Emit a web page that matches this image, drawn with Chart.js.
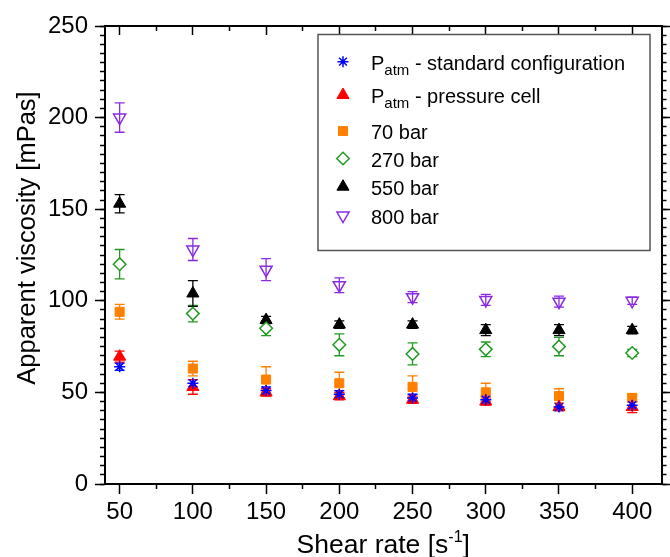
<!DOCTYPE html>
<html><head><meta charset="utf-8">
<script src="https://cdn.jsdelivr.net/npm/chart.js@4/dist/chart.umd.min.js"></script>
<style>html,body{margin:0;padding:0;background:#fff;}canvas{display:block;}</style>
</head><body>
<canvas id="c" width="670" height="557"></canvas>
<script>
// ---- data ----
const shearRates = [50, 100, 150, 200, 250, 300, 350, 400];
const stdVisc   = [64, 55, 51, 49, 47, 46, 42, 43];
const stdErr    = [2, 2, 2, 2, 2, 2, 2, 2];
const cellVisc  = [69.5, 53, 50, 48, 46, 45, 42, 42];
const cellErr   = [3, 4, 2, 2, 2, 2, 2, 3];
const bar70Visc = [94, 63, 57, 55, 53, 50, 48, 47];
const bar70Err  = [4, 4, 7, 6, 6, 5, 4, 2];
const bar270Visc = [120, 93, 85, 76, 71, 73.5, 75, 71.5];
const bar270Err  = [8, 4.5, 4, 6, 6, 4, 5, 2];
const bar550Visc = [153, 104, 89.5, 87, 87, 84, 84, 84];
const bar550Err  = [5, 7, 2, 2, 2, 3, 3, 2];
const bar800Visc = [200, 128, 117, 108.5, 102, 100.5, 99.5, 100];
const bar800Err  = [8, 6, 6, 4, 3, 3, 3, 2];

const xMajorTicks = [50, 100, 150, 200, 250, 300, 350, 400];
const xMinorTicks = [75, 125, 175, 225, 275, 325, 375];

const legendMain = ['P', 'P', '70 bar', '270 bar', '550 bar', '800 bar'];
const legendSub  = ['atm', 'atm', '', '', '', ''];
const legendRest = [' - standard configuration', ' - pressure cell', '', '', '', ''];
const xTitleMain = 'Shear rate [s';
const xTitleSup = '-1';
const xTitleEnd = ']';
const yTitle = 'Apparent viscosity [mPas]';

const FONT = '"Liberation Sans", Arial, Helvetica, sans-serif';
Chart.defaults.font.family = FONT;

const pts = vals => shearRates.map((x, i) => ({x: x, y: vals[i]}));
const seriesErrors = [stdErr, cellErr, bar70Err, bar270Err, bar550Err, bar800Err];

const datasets = [
  {label: 'Patm - standard configuration', data: pts(stdVisc), pointStyle: 'star', pointRadius: 5.5, borderColor: '#0000ff', backgroundColor: '#0000ff', pointBorderWidth: 1.5},
  {label: 'Patm - pressure cell', data: pts(cellVisc), pointStyle: 'triangle', pointRadius: 7, borderColor: '#ff0000', backgroundColor: '#ff0000', pointBorderWidth: 1},
  {label: '70 bar', data: pts(bar70Visc), pointStyle: 'rect', pointRadius: 6.4, borderColor: '#ff8000', backgroundColor: '#ff8000', pointBorderWidth: 1},
  {label: '270 bar', data: pts(bar270Visc), pointStyle: 'rectRot', pointRadius: 6.3, borderColor: '#229922', backgroundColor: '#ffffff', pointBorderWidth: 1.5},
  {label: '550 bar', data: pts(bar550Visc), pointStyle: 'triangle', pointRadius: 7, borderColor: '#000000', backgroundColor: '#000000', pointBorderWidth: 1},
  {label: '800 bar', data: pts(bar800Visc), pointStyle: 'triangle', pointRotation: 180, pointRadius: 7, borderColor: '#8a2be2', backgroundColor: 'rgba(0,0,0,0)', pointBorderWidth: 1.5}
];
datasets.forEach(d => { d.showLine = false; d.pointHoverRadius = d.pointRadius; });

const errorBars = {
  id: 'errorBars',
  beforeDatasetsDraw(chart) {
    const ctx = chart.ctx, xs = chart.scales.x, ys = chart.scales.y;
    chart.data.datasets.forEach((ds, di) => {
      const errs = seriesErrors[di];
      ctx.save();
      ctx.strokeStyle = ds.borderColor;
      ctx.lineWidth = 1.3;
      ds.data.forEach((p, i) => {
        const px = xs.getPixelForValue(p.x);
        const top = ys.getPixelForValue(p.y + errs[i]);
        const bot = ys.getPixelForValue(p.y - errs[i]);
        ctx.beginPath();
        ctx.moveTo(px, top); ctx.lineTo(px, bot);
        ctx.moveTo(px - 5, top); ctx.lineTo(px + 5, top);
        ctx.moveTo(px - 5, bot); ctx.lineTo(px + 5, bot);
        ctx.stroke();
      });
      ctx.restore();
    });
  }
};

const legendY = [61.7, 95, 131, 158.5, 186.7, 215.5];
const customLegend = {
  id: 'customLegend',
  afterDraw(chart) {
    const ctx = chart.ctx;
    ctx.save();
    ctx.strokeStyle = '#555555';
    ctx.lineWidth = 1.5;
    ctx.strokeRect(318, 34.5, 332, 216);
    chart.data.datasets.forEach((ds, i) => {
      const y = legendY[i];
      ctx.save();
      ctx.strokeStyle = ds.borderColor;
      ctx.fillStyle = ds.backgroundColor;
      ctx.lineWidth = ds.pointBorderWidth;
      Chart.helpers.drawPoint(ctx, {pointStyle: ds.pointStyle, radius: ds.pointRadius, rotation: ds.pointRotation || 0, borderWidth: ds.pointBorderWidth}, 343, y);
      ctx.restore();
      ctx.fillStyle = '#000';
      ctx.textAlign = 'left';
      ctx.textBaseline = 'alphabetic';
      let x = 371;
      ctx.font = '20px ' + FONT;
      ctx.fillText(legendMain[i], x, y + 8);
      x += ctx.measureText(legendMain[i]).width;
      if (legendSub[i]) {
        ctx.font = '15px ' + FONT;
        ctx.fillText(legendSub[i], x, y + 13);
        x += ctx.measureText(legendSub[i]).width;
        ctx.font = '20px ' + FONT;
        ctx.fillText(legendRest[i], x, y + 8);
      }
    });
    ctx.restore();
  }
};

const axisTitles = {
  id: 'axisTitles',
  afterDraw(chart) {
    const ctx = chart.ctx, a = chart.chartArea;
    ctx.save();
    ctx.fillStyle = '#000';
    ctx.font = '25.5px ' + FONT;
    ctx.textBaseline = 'alphabetic';
    ctx.save();
    ctx.translate(35, 238);
    ctx.rotate(-Math.PI / 2);
    ctx.textAlign = 'center';
    ctx.fillText(yTitle, 0, 0);
    ctx.restore();
    ctx.textAlign = 'left';
    ctx.font = '26.5px ' + FONT;
    const w1 = ctx.measureText(xTitleMain).width;
    const w3 = ctx.measureText(xTitleEnd).width;
    ctx.font = '16px ' + FONT;
    const w2 = ctx.measureText(xTitleSup).width;
    const cx = (a.left + a.right) / 2;
    let x = cx - (w1 + w2 + w3) / 2;
    const by = 553;
    ctx.font = '26.5px ' + FONT;
    ctx.fillText(xTitleMain, x, by);
    x += w1;
    ctx.font = '16px ' + FONT;
    ctx.fillText(xTitleSup, x, by - 11);
    x += w2;
    ctx.font = '26.5px ' + FONT;
    ctx.fillText(xTitleEnd, x, by);
    ctx.restore();
  }
};

const tickFont = {family: FONT, size: 24};
const majorGrid = len => ({drawOnChartArea: false, drawTicks: true, tickLength: len, tickWidth: 1.5, tickColor: '#000'});
const noBorder = {display: false};
const axisBorder = {display: true, color: '#000', width: 2};
const useTicks = arr => s => { s.ticks = arr.map(v => ({value: v})); };

new Chart(document.getElementById('c'), {
  type: 'scatter',
  data: {datasets: datasets},
  options: {
    responsive: false,
    devicePixelRatio: 1,
    animation: false,
    events: [],
    layout: {padding: 0},
    plugins: {legend: {display: false}, tooltip: {enabled: false}, title: {display: false}},
    scales: {
      x: {type: 'linear', position: 'bottom', min: 40, max: 420, weight: 1,
          afterBuildTicks: useTicks(xMajorTicks),
          afterFit: s => { s.height = 73; },
          ticks: {padding: 4, color: '#000', font: tickFont, maxRotation: 0, autoSkip: false},
          grid: majorGrid(10), border: axisBorder},
      xMinor: {type: 'linear', position: 'bottom', min: 40, max: 420, weight: 0,
          afterBuildTicks: useTicks(xMinorTicks),
          afterFit: s => { s.height = 0; },
          ticks: {display: false},
          grid: majorGrid(5), border: noBorder},
      xTop: {type: 'linear', position: 'top', min: 40, max: 420, weight: 1,
          afterBuildTicks: useTicks(xMajorTicks),
          afterFit: s => { s.height = 26; },
          ticks: {display: false},
          grid: majorGrid(-9), border: axisBorder},
      xTopMinor: {type: 'linear', position: 'top', min: 40, max: 420, weight: 0,
          afterBuildTicks: useTicks(xMinorTicks),
          afterFit: s => { s.height = 0; },
          ticks: {display: false},
          grid: majorGrid(-5), border: noBorder},
      y: {type: 'linear', position: 'left', min: 0, max: 250, weight: 1,
          afterFit: s => { s.width = 105; },
          ticks: {stepSize: 50, padding: 7, color: '#000', font: tickFont},
          grid: majorGrid(10), border: axisBorder},
      yMinor: {type: 'linear', position: 'left', min: 0, max: 250, weight: 0,
          afterFit: s => { s.width = 0; },
          ticks: {stepSize: 5, display: false},
          grid: majorGrid(5), border: noBorder},
      yRight: {type: 'linear', position: 'right', min: 0, max: 250, weight: 1,
          afterFit: s => { s.width = 7; },
          ticks: {stepSize: 50, display: false},
          grid: majorGrid(9), border: axisBorder},
      yRightMinor: {type: 'linear', position: 'right', min: 0, max: 250, weight: 0,
          afterFit: s => { s.width = 0; },
          ticks: {stepSize: 5, display: false},
          grid: majorGrid(5), border: noBorder}
    }
  },
  plugins: [errorBars, customLegend, axisTitles]
});
</script>
</body></html>
